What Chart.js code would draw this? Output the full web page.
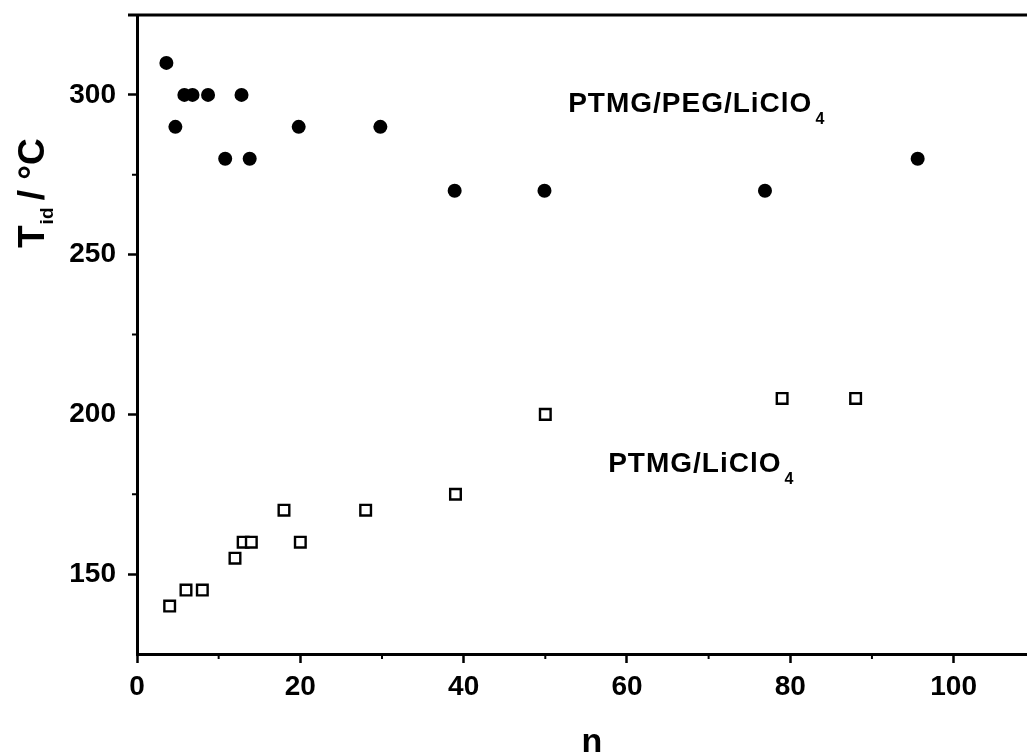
<!DOCTYPE html>
<html>
<head>
<meta charset="utf-8">
<title>T_id vs n</title>
<script src="https://cdn.jsdelivr.net/npm/chart.js@4.4.0/dist/chart.umd.min.js"></script>
<style>
  html, body { margin: 0; padding: 0; background: #fff; overflow: hidden; }
  canvas { display: block; }
</style>
</head>
<body>
<canvas id="chart" width="1037" height="754"></canvas>
<script>
// PTMG/PEG/LiClO4 - filled circles
const pegN = [3.6, 4.7, 5.8, 6.8, 8.7, 10.8, 12.8, 13.8, 19.8, 29.8, 38.9, 49.9, 76.9, 95.6];
const pegT = [310, 290, 300, 300, 300, 280, 300, 280, 290, 290, 270, 270, 270, 280];

// PTMG/LiClO4 - open squares
const ptmgN = [4, 6, 8, 12, 13, 14, 18, 20, 28, 39, 50, 79, 88];
const ptmgT = [140, 145, 145, 155, 160, 160, 170, 160, 170, 175, 200, 205, 205];

// ticks
const xMajor = [0, 20, 40, 60, 80, 100];
const xMinor = [10, 30, 50, 70, 90];
const yMajor = [150, 200, 250, 300];
const yMinor = [175, 225, 275];

// series labels inside the plot: [text, subscript, n, T]
const seriesLabels = [
  ["PTMG/PEG/LiClO", "4", 52.8, 294.5],
  ["PTMG/LiClO", "4", 57.7, 182]
];

const FONT = "'Liberation Sans', Arial, sans-serif";

function toPoints(xs, ys) {
  return xs.map((x, i) => ({ x: x, y: ys[i] }));
}

// draw text with a subscript part
function drawSubText(ctx, main, sub, x, y, size, subSize, subDrop) {
  ctx.font = "bold " + size + "px " + FONT;
  ctx.textAlign = "left";
  ctx.textBaseline = "alphabetic";
  ctx.fillText(main, x, y);
  const w = ctx.measureText(main).width;
  ctx.font = "bold " + subSize + "px " + FONT;
  ctx.fillText(sub, x + w + 3, y + subDrop);
}

// no extra room around the plot for edge labels
function noEdgePadding(s) {
  s.paddingTop = 0;
  s.paddingBottom = 0;
  s.paddingLeft = 0;
  s.paddingRight = 0;
}

// extras: top frame line, minor ticks, labels, axis titles
const extras = {
  id: "extras",
  afterDraw(chart) {
    const ctx = chart.ctx;
    const area = chart.chartArea;
    const xs = chart.scales.x;
    const ys = chart.scales.y;
    ctx.save();
    ctx.strokeStyle = "#000";
    ctx.fillStyle = "#000";

    // top frame
    ctx.lineWidth = 3;
    ctx.beginPath();
    ctx.moveTo(area.left - 9, area.top);
    ctx.lineTo(area.right, area.top);
    ctx.stroke();

    // minor ticks
    ctx.lineWidth = 2;
    xMinor.forEach((v) => {
      const px = xs.getPixelForValue(v);
      ctx.beginPath();
      ctx.moveTo(px, area.bottom);
      ctx.lineTo(px, area.bottom + 5);
      ctx.stroke();
    });
    yMinor.forEach((v) => {
      const py = ys.getPixelForValue(v);
      ctx.beginPath();
      ctx.moveTo(area.left, py);
      ctx.lineTo(area.left - 5, py);
      ctx.stroke();
    });

    // series labels
    ctx.letterSpacing = "1px";
    seriesLabels.forEach((l) => {
      drawSubText(ctx, l[0], l[1], xs.getPixelForValue(l[2]), ys.getPixelForValue(l[3]), 28, 16, 12);
    });
    ctx.letterSpacing = "0px";

    // x title
    ctx.font = "bold 34px " + FONT;
    ctx.textAlign = "center";
    ctx.textBaseline = "alphabetic";
    ctx.fillText("n", 592, 752);

    // y title, rotated
    ctx.save();
    ctx.translate(44, 248);
    ctx.rotate(-Math.PI / 2);
    ctx.textAlign = "left";
    ctx.font = "bold 37px " + FONT;
    ctx.fillText("T", 0, 0);
    let w = ctx.measureText("T").width;
    ctx.font = "bold 19px " + FONT;
    ctx.fillText("id", w + 1, 9);
    w += ctx.measureText("id").width;
    ctx.font = "bold 37px " + FONT;
    ctx.fillText(" / \u00B0C", w - 2, 0);
    ctx.restore();

    ctx.restore();
  }
};

const tickFont = { family: FONT, size: 28, weight: "bold" };

new Chart(document.getElementById("chart"), {
  type: "scatter",
  data: {
    datasets: [
      {
        label: "PTMG/PEG/LiClO4",
        data: toPoints(pegN, pegT),
        pointStyle: "circle",
        pointRadius: 7,
        backgroundColor: "#000",
        borderColor: "#000",
        borderWidth: 0
      },
      {
        label: "PTMG/LiClO4",
        data: toPoints(ptmgN, ptmgT),
        pointStyle: "rect",
        pointRadius: 7.5,
        backgroundColor: "#fff",
        borderColor: "#000",
        borderWidth: 2.4
      }
    ]
  },
  options: {
    responsive: false,
    animation: false,
    layout: { padding: { top: 15, right: 0, left: 0, bottom: 0 } },
    plugins: {
      legend: { display: false },
      tooltip: { enabled: false }
    },
    scales: {
      x: {
        type: "linear",
        min: 0,
        max: 109,
        afterBuildTicks: (s) => { s.ticks = xMajor.map((v) => ({ value: v })); },
        afterFit: (s) => { s.height = 100; noEdgePadding(s); },
        grid: { drawOnChartArea: false, tickLength: 9, tickWidth: 2.5, tickColor: "#000" },
        border: { color: "#000", width: 3 },
        ticks: { font: tickFont, color: "#000", padding: 7, maxRotation: 0, autoSkip: false }
      },
      y: {
        type: "linear",
        min: 125,
        max: 325,
        afterBuildTicks: (s) => { s.ticks = yMajor.map((v) => ({ value: v })); },
        afterFit: (s) => { s.width = 137; noEdgePadding(s); },
        grid: { drawOnChartArea: false, tickLength: 9, tickWidth: 2.5, tickColor: "#000" },
        border: { color: "#000", width: 3 },
        ticks: { font: tickFont, color: "#000", padding: 12 }
      }
    }
  },
  plugins: [extras]
});
</script>
</body>
</html>
